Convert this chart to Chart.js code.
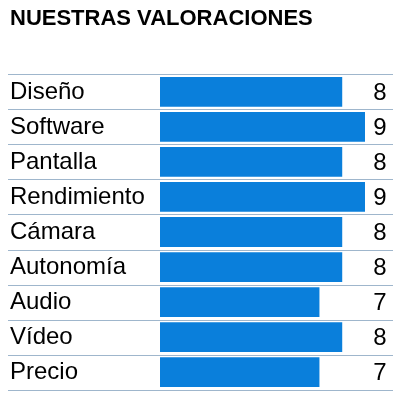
<!DOCTYPE html>
<html><head><meta charset="utf-8">
<script src="https://cdn.jsdelivr.net/npm/chart.js@4"></script>
<style>body{margin:0;background:#fff}#wrap{width:401px;height:404px}</style>
</head><body><div id="wrap"><canvas id="c"></canvas></div>
<script>
const categories = ['Diseño','Software','Pantalla','Rendimiento','Cámara','Autonomía','Audio','Vídeo','Precio'];
const scores = [8, 9, 8, 9, 8, 8, 7, 8, 7];

// líneas entre filas y valores a la derecha
const rowPlugin = {
  id: 'rows',
  afterDatasetsDraw(chart) {
    const ctx = chart.ctx, y = chart.scales.y;
    const step = y.getPixelForValue(1) - y.getPixelForValue(0);
    ctx.save();
    ctx.strokeStyle = '#9fb6cc';
    ctx.lineWidth = 1;
    for (let i = 0; i <= categories.length; i++) {
      const py = Math.round(y.getPixelForValue(i) - step / 2) + 0.5;
      ctx.beginPath(); ctx.moveTo(8, py); ctx.lineTo(393, py); ctx.stroke();
    }
    ctx.fillStyle = '#000';
    ctx.font = '24px "Liberation Sans", sans-serif';
    ctx.textAlign = 'center';
    ctx.textBaseline = 'middle';
    scores.forEach((v, i) => ctx.fillText(v, 380, y.getPixelForValue(i) + 1));
    ctx.restore();
  }
};

new Chart(document.getElementById('c'), {
  type: 'bar',
  data: {
    labels: categories,
    datasets: [{ data: scores, backgroundColor: '#0a7fdb', barPercentage: 0.85, categoryPercentage: 1 }]
  },
  options: {
    indexAxis: 'y',
    responsive: true,
    maintainAspectRatio: false,
    animation: false,
    layout: { padding: { left: 10, right: 36, top: 0, bottom: 5 } },
    plugins: {
      legend: { display: false },
      tooltip: { enabled: false },
      title: {
        display: true, text: 'NUESTRAS VALORACIONES', align: 'start',
        color: '#000', font: { family: '"Liberation Sans", sans-serif', size: 22, weight: 'bold' },
        padding: { top: 6, bottom: 42 }
      }
    },
    scales: {
      x: { display: false, min: 0, max: 9 },
      y: {
        grid: { display: false }, border: { display: false },
        afterFit: s => { s.width = 150; },
        ticks: { crossAlign: 'far', color: '#000', padding: 0,
          font: { family: '"Liberation Sans", sans-serif', size: 24 } }
      }
    }
  },
  plugins: [rowPlugin]
});
</script></body></html>
